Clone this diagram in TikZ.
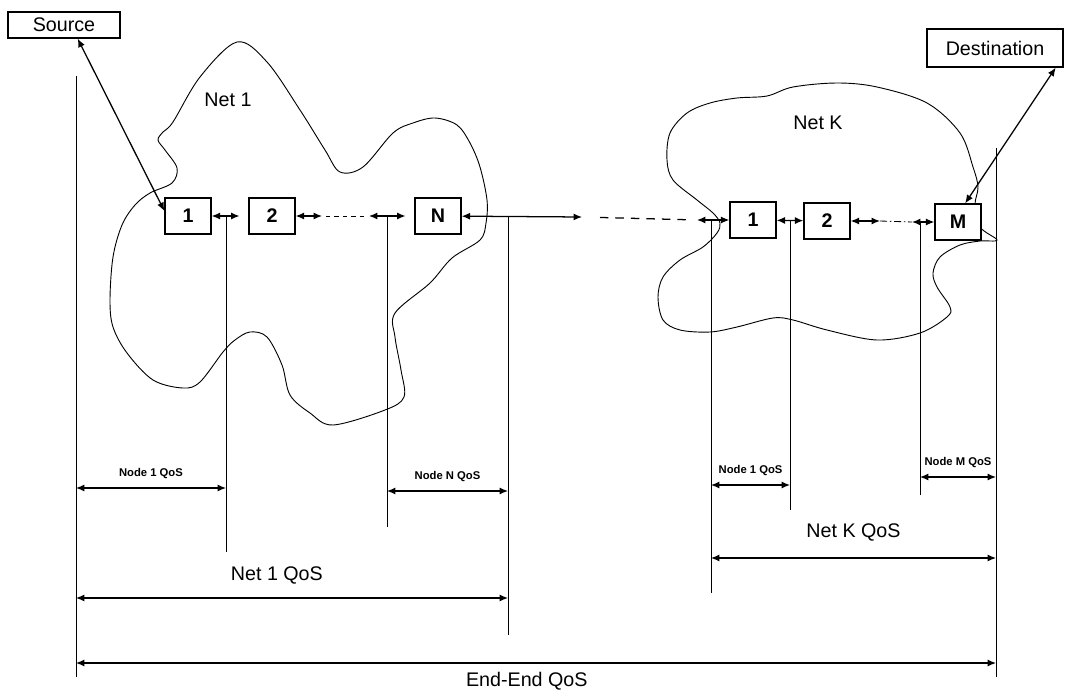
\documentclass[tikz,border=0pt]{standalone}
\usepackage{fontspec}
\setmainfont{Liberation Sans}
\usetikzlibrary{positioning,arrows.meta,calc}

\begin{document}
\begin{tikzpicture}[x=0.025cm,y=-0.025cm,
    every node/.style={font=\fontsize{14}{16}\selectfont},
    hop/.style={draw,line width=0.9pt,fill=white,minimum width=1.15cm,
      minimum height=0.9cm,inner sep=0pt,font=\fontsize{14}{16}\selectfont\bfseries},
    endpt/.style={draw,line width=1pt,fill=white,inner sep=0pt,minimum height=0.65cm},
    cloud/.style={line width=0.65pt},
    link/.style={{Latex[length=6pt,width=5pt]}-{Latex[length=6pt,width=5pt]},line width=0.9pt},
    tick/.style={line width=0.6pt},
    dim/.style={{Latex[length=6pt,width=5pt]}-{Latex[length=6pt,width=5pt]},line width=0.8pt},
    small/.style={font=\fontsize{8}{9}\selectfont\bfseries,inner sep=0pt}]
  \useasboundingbox (0,0) rectangle (1065,690);

  % the two networks
  \draw[cloud] plot[smooth cycle,tension=.55] coordinates {
    (237,42) (267,62) (300,110) (325,150) (340,172) (363,167) (393,133)
    (413,123) (435,118) (457,125) (470,143) (480,167) (487,200) (486,223)
    (480,240) (452,258) (430,283) (395,313) (395,337) (401,370) (404,397)
    (385,410) (333,425) (310,413) (290,395) (282,365) (267,337) (250,332)
    (235,340) (223,352) (200,382) (183,388) (153,380) (127,353) (113,327)
    (110,300) (113,257) (122,225) (135,205) (150,193) (172,183) (177,168)
    (165,150) (158,140) (163,132) (173,122) (200,77)};
  \draw[cloud] plot[smooth cycle,tension=.55] coordinates {
    (737,98) (767,96) (793,87) (837,83) (877,87) (927,103) (960,133)
    (973,167) (978,187) (975,205) (980,227) (997,240) (980,241) (960,245)
    (940,257) (933,273) (937,287) (950,307) (947,317) (920,333) (877,340)
    (827,330) (793,320) (773,318) (737,327) (710,332) (680,330) (663,320)
    (658,297) (663,277) (680,260) (703,247) (717,233) (720,223) (713,213)
    (697,200) (673,180) (667,160) (670,133) (687,113) (710,103)};
  \node (net1) at (228,100) {Net 1};
  \node (netK) at (818,123) {Net K};

  % end points and hops
  \node[endpt,minimum width=2.8cm] (src) at (64,25) {Source};
  \node[endpt,minimum width=3.4cm,minimum height=0.95cm] (dst) at (995,48) {Destination};
  \node[hop] (b1) at (188,216) {1};
  \node[hop] (b2) at (272,216) {2};
  \node[hop] (bN) at (438,216) {N};
  \node[hop] (k1) at (753,220) {1};
  \node[hop] (k2) at (827,221) {2};
  \node[hop] (m) at (958,222) {M};

  \draw[link] (src.-45) -- (b1.168);
  \draw[link] (m.69) -- (dst.-18);

  % path through the hops
  \coordinate (d1) at (322,216);
  \coordinate (d2) at (369,216);
  \coordinate (d3) at (582,217);
  \coordinate (d4) at (697,220);
  \coordinate (d5) at (880,221);
  \coordinate (d6) at (912,222);
  \draw[link,shorten >=2.2mm] (b1) -- (b2);
  \draw[link] (b2) -- (d1);
  \draw[tick,dash pattern=on 3pt off 3pt,shorten <=1mm,shorten >=1mm] (d1) -- (d2);
  \draw[link,shorten >=2.2mm] (d2) -- (bN);
  \draw[link] (bN) -- (d3);
  \draw[line width=0.9pt,dash pattern=on 6pt off 5pt,shorten <=4.5mm,shorten >=1.5mm] (d3) -- (d4);
  \draw[link] (d4) -- (k1);
  \draw[link] (k1) -- (k2);
  \draw[link] (k2) -- (d5);
  \draw[tick,dash pattern=on 5pt off 2pt on 1pt off 2pt] (d5) -- (d6);
  \draw[link] (d6) -- (m);

  % reference lines
  \coordinate (vLt) at (76,76);
  \coordinate (vL) at (76,677);
  \coordinate (vRt) at (996,148);
  \coordinate (vR) at (996,677);
  \coordinate (t1) at (226,552);
  \coordinate (tN1) at (387,527);
  \coordinate (tN2) at (508,635);
  \coordinate (tK1) at (711,593);
  \coordinate (tK2) at (790,510);
  \coordinate (tM) at (920,495);
  \draw[tick] (vLt) -- (vL);
  \draw[tick] (vRt) -- (vR);
  \draw[tick] (t1 |- b1) -- (t1);
  \draw[tick] (tN1 |- bN) -- (tN1);
  \draw[tick] (tN2 |- bN) -- (tN2);
  \draw[tick] (tK1 |- k1) -- (tK1);
  \draw[tick] (tK2 |- k2) -- (tK2);
  \draw[tick] (tM |- m) -- (tM);

  % QoS spans
  \draw[dim] (vL |- 0,488) -- node[small,above=6pt] {Node 1 QoS} (t1 |- 0,488);
  \draw[dim] (tN1 |- 0,491) -- node[small,above=6pt] {Node N QoS} (tN2 |- 0,491);
  \draw[dim] (tK1 |- 0,485) -- node[small,above=6pt] {Node 1 QoS} (tK2 |- 0,485);
  \draw[dim] (tM |- 0,477) -- node[small,above=6pt] {Node M QoS} (vR |- 0,477);
  \draw[dim] (tK1 |- 0,558) -- node[above=8pt] {Net K QoS} (vR |- 0,558);
  \draw[dim] (vL |- 0,598) -- node[pos=.465,above=6pt] {Net 1 QoS} (tN2 |- 0,598);
  \draw[dim] (vL |- 0,663) -- node[pos=.49,below=2.5pt] {End-End QoS} (vR |- 0,663);
\end{tikzpicture}
\end{document}
